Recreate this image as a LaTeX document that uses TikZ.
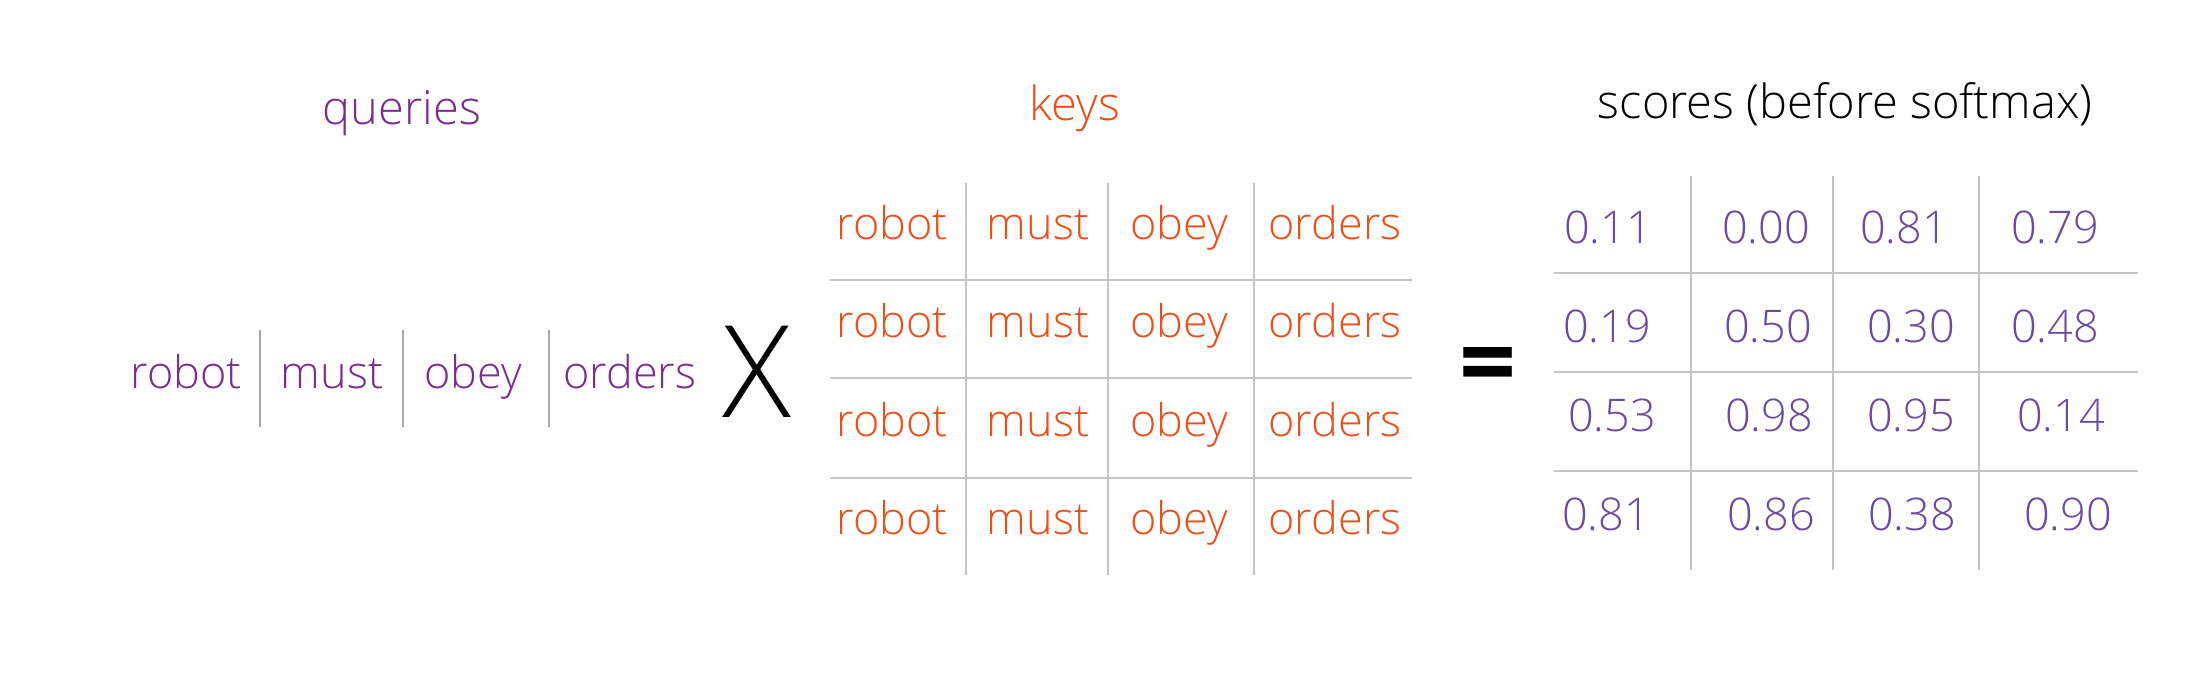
\documentclass[tikz,border=0pt]{standalone}
\usepackage{fontspec}
\IfFontExistsTF{Open Sans Light}{\setmainfont{Open Sans Light}}{\setmainfont{Open Sans}}
\newfontfamily\eqfont{Open Sans}
\definecolor{qcol}{HTML}{7B2D8E}
\definecolor{kcol}{HTML}{E9501C}
\definecolor{ncol}{HTML}{6A4C9E}
\definecolor{gridgray}{HTML}{C4C4C4}
\definecolor{sepgray}{HTML}{ABABAB}
\tikzset{
  word/.style={font=\fontsize{22.5}{22.5}\selectfont, anchor=base, inner sep=0pt},
  qw/.style={word, text=qcol},
  kw/.style={word, text=kcol},
  num/.style={word, text=ncol},
  ttl/.style={font=\fontsize{23.5}{23.5}\selectfont, anchor=base, inner sep=0pt},
  gridline/.style={draw=gridgray, line width=0.8pt},
  sepline/.style={draw=sepgray, line width=0.8pt},
}
\begin{document}
\begin{tikzpicture}[x=0.5pt,y=-0.5pt]
\useasboundingbox (0,0) rectangle (2205,690);
\fill[white] (0,0) rectangle (2205,690);
% titles
\node[ttl, text=qcol] (tq) at (402,125) {queries};
\node[ttl, text=kcol] (tk) at (1075,120) {keys};
\node[ttl, text=black] (ts) at (1845,119) {scores (before softmax)};
% queries row
\node[qw] (q1) at (186,388) {robot};
\node[qw] (q2) at (332,388) {must};
\node[qw] (q3) at (473,388) {obey};
\node[qw] (q4) at (630,388) {orders};
\foreach \x/\n in {260/a,403/b,549/c}{
  \coordinate (qs\n t) at (\x,330);
  \coordinate (qs\n b) at (\x,427);
  \draw[sepline] (qs\n t) -- (qs\n b);
}
% times
\node[font=\fontsize{64}{64}\selectfont, anchor=base, inner sep=0pt] (times) at (757,417) {X};
% keys grid
\foreach \x/\n in {966/a,1108/b,1254/c}{
  \coordinate (kv\n t) at (\x,183);
  \coordinate (kv\n b) at (\x,575);
  \draw[gridline] (kv\n t) -- (kv\n b);
}
\foreach \y/\n in {280/a,378/b,478/c}{
  \coordinate (kh\n l) at (830,\y);
  \coordinate (kh\n r) at (1412,\y);
  \draw[gridline] (kh\n l) -- (kh\n r);
}
\foreach \y [count=\r] in {239,337,436,534}{
  \node[kw] (k\r-1) at (892,\y) {robot};
  \node[kw] (k\r-2) at (1038,\y) {must};
  \node[kw] (k\r-3) at (1179,\y) {obey};
  \node[kw] (k\r-4) at (1335,\y) {orders};
}
% equals
\node[font=\eqfont\bfseries\fontsize{50}{50}\selectfont, anchor=center, inner sep=0pt] (eq) at (1488,372) {=};
% scores grid
\foreach \x/\n in {1691/a,1833/b,1979/c}{
  \coordinate (sv\n t) at (\x,176);
  \coordinate (sv\n b) at (\x,570);
  \draw[gridline] (sv\n t) -- (sv\n b);
}
\foreach \y/\n in {273/a,372/b,471/c}{
  \coordinate (sh\n l) at (1554,\y);
  \coordinate (sh\n r) at (2138,\y);
  \draw[gridline] (sh\n l) -- (sh\n r);
}
\node[num] (s11) at (1608,243) {0.11};
\node[num] (s12) at (1766,243) {0.00};
\node[num] (s13) at (1904,243) {0.81};
\node[num] (s14) at (2055,243) {0.79};
\node[num] (s21) at (1607,342) {0.19};
\node[num] (s22) at (1768,342) {0.50};
\node[num] (s23) at (1911,342) {0.30};
\node[num] (s24) at (2055,342) {0.48};
\node[num] (s31) at (1612,431) {0.53};
\node[num] (s32) at (1769,431) {0.98};
\node[num] (s33) at (1911,431) {0.95};
\node[num] (s34) at (2061,431) {0.14};
\node[num] (s41) at (1606,530) {0.81};
\node[num] (s42) at (1771,530) {0.86};
\node[num] (s43) at (1912,530) {0.38};
\node[num] (s44) at (2068,530) {0.90};
\end{tikzpicture}
\end{document}
